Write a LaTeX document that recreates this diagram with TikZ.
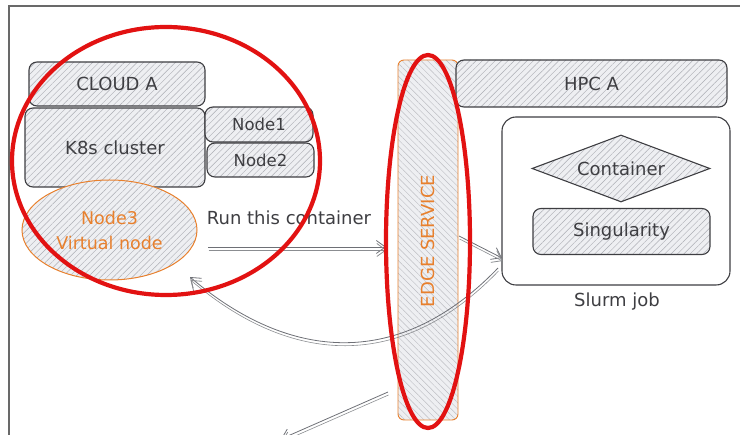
\documentclass[tikz,border=0pt]{standalone}
\usepackage{fontspec}
\setmainfont{DejaVu Sans}
\usetikzlibrary{shapes.geometric,arrows.meta,patterns.meta}

\definecolor{ink}{RGB}{62,62,66}
\definecolor{hatch}{RGB}{172,174,180}
\definecolor{paper}{RGB}{238,239,242}
\definecolor{orangeink}{RGB}{232,128,45}
\definecolor{marker}{RGB}{226,18,18}
\definecolor{framegray}{RGB}{105,105,105}
\definecolor{wire}{RGB}{110,112,118}

\begin{document}
\begin{tikzpicture}[x=1pt,y=-1pt,
  txt/.style={text=ink, font=\fontsize{18}{21}\selectfont},
  hatched/.style={preaction={fill=paper},
    pattern={Lines[angle=45,distance=4.5pt,line width=0.45pt]}, pattern color=hatch},
  sketchbox/.style={txt, hatched, draw=ink, line width=1.1pt,
    rounded corners=8pt, inner sep=0pt},
  plainbox/.style={draw=ink, line width=1.1pt, rounded corners=14pt, inner sep=0pt},
  conn/.style={draw=wire, line width=0.8pt,
    -{Straight Barb[length=9pt,width=13pt,line width=0.8pt]},
    postaction={draw=wire!80, line width=0.6pt,
      transform canvas={shift={(0.5pt,-3pt)}}}},
  ring/.style={draw=marker, line width=4.2pt}
]
\useasboundingbox (0,0) rectangle (740,435);

% page frame (top and left edges)
\draw[draw=framegray, line width=2pt] (9,436) -- (9,6) -- (741,6);

% cloud side
\node[sketchbox, minimum width=176pt, minimum height=44pt] (cloud) at (117,84) {CLOUD A};
\node[sketchbox, minimum width=180pt, minimum height=79pt] (k8s) at (115,147.5) {K8s cluster};
\node[sketchbox, minimum width=108pt, minimum height=35pt, font=\fontsize{16.5}{19}\selectfont] (node1) at (259,124.5) {Node1};
\node[sketchbox, minimum width=107pt, minimum height=34pt, font=\fontsize{16.5}{19}\selectfont] (node2) at (260.5,160) {Node2};
\node[ellipse, hatched, draw=orangeink, line width=1pt, minimum width=175pt,
      minimum height=100pt, inner sep=0pt, align=center, text=orangeink,
      font=\fontsize{17.5}{25}\selectfont] (node3) at (109.5,230) {Node3\\Virtual node};

% edge service column
\node[draw=orangeink, line width=0.9pt, rounded corners=6pt,
      preaction={fill=paper},
      pattern={Lines[angle=-45,distance=4.5pt,line width=0.45pt]}, pattern color=hatch!80,
      minimum width=60pt, minimum height=360pt, inner sep=0pt] (edge) at (428,240) {};
\node[rotate=90, text=orangeink, font=\fontsize{18}{21}\selectfont] (edgelabel) at (428,241) {EDGE SERVICE};

% HPC side
\node[sketchbox, minimum width=271pt, minimum height=47pt] (hpc) at (591.5,83.5) {HPC A};
\node[plainbox, minimum width=228pt, minimum height=168pt] (slurm) at (616,201) {};
\node[diamond, aspect=2.65, txt, hatched, draw=ink, line width=1.1pt, inner sep=0pt,
      minimum width=178pt, minimum height=67pt] (container) at (621,168.5) {Container};
\node[sketchbox, minimum width=177pt, minimum height=46pt] (sing) at (621.5,231.5) {Singularity};
\node[txt] (slurmlabel) at (617,302) {Slurm job};

% connectors
\coordinate (runstart) at (208,247);
\coordinate (runend) at (386,247);
\draw[conn] (runstart) -- (runend);
\node[txt, anchor=base] (runlabel) at (289,225) {Run this container};

\coordinate (edgeout) at (459,236);
\coordinate (slurmin) at (502,258);
\draw[conn] (edgeout) -- (slurmin);

\coordinate (slurmout) at (498,268);
\coordinate (node3in) at (190,277);
\draw[conn] (slurmout) .. controls (400,370) and (290,362) .. (node3in);

\coordinate (edgedown) at (388,392);
\coordinate (offpage) at (281,439);
\draw[conn] (edgedown) -- (offpage);

% red highlight rings
\draw[ring] (166,161) ellipse [x radius=154pt, y radius=134pt];
\draw[ring] (428,241.5) ellipse [x radius=42pt, y radius=186.5pt];
\end{tikzpicture}
\end{document}
